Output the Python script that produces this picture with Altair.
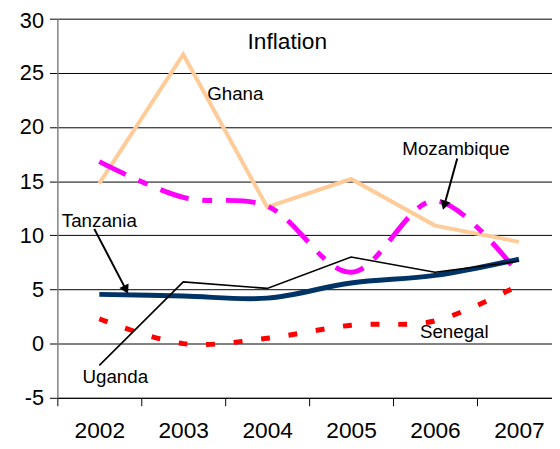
import altair as alt
import pandas as pd

years = [2002, 2003, 2004, 2005, 2006, 2007]
ghana = [14.8, 26.7, 12.6, 15.2, 10.9, 9.4]
mozambique = [16.8, 13.5, 12.7, 6.6, 13.2, 6.4]
tanzania = [4.55, 4.4, 4.2, 5.6, 6.3, 7.8]
uganda = [-2.0, 5.7, 5.1, 8.0, 6.6, 7.6]
senegal = [2.3, 0.0, 0.5, 1.7, 2.1, 5.4]

y_ticks = [-5, 0, 5, 10, 15, 20, 25, 30]
x_ticks = [2001.5, 2002, 2002.5, 2003, 2003.5, 2004, 2004.5, 2005, 2005.5,
           2006, 2006.5, 2007]

label_text = ["Inflation", "Ghana", "Mozambique", "Tanzania", "Uganda", "Senegal"]
label_x = [2004.24, 2003.62, 2006.25, 2002.0, 2002.19, 2006.23]
label_y = [27.8, 23.0, 17.95, 11.3, -3.1, 1.1]
label_size = [23, 19, 19, 19, 19, 19]

arrow_x = [2001.94, 2006.265]
arrow_y = [10.6, 17.1]
arrow_x2 = [2002.31, 2006.115]
arrow_y2 = [5.1, 12.9]
arrow_angle = [153, 196]

FONT = "Liberation Sans"
W, H = 501, 384
x_scale = alt.Scale(domain=[2001.5, 2001.5 + W / 85.0], nice=False, zero=False)
y_scale = alt.Scale(domain=[-5, 30], nice=False, zero=False)

series = [
    ("Ghana", ghana, "#FFCC99", 4, None, "linear"),
    ("Mozambique", mozambique, "#FF00FF", 5, [30, 14, 10, 14], "catmull-rom"),
    ("Senegal", senegal, "#FF0000", 5, [9, 19], "catmull-rom"),
    ("Tanzania", tanzania, "#003366", 5, None, "catmull-rom"),
    ("Uganda", uganda, "#000000", 1.6, None, "linear"),
]

x_axis = alt.Axis(
    values=x_ticks,
    labelExpr="datum.value % 1 == 0 ? format(datum.value, 'd') : ''",
    tickOpacity={"condition": {"test": "datum.value % 1 == 0", "value": 0}, "value": 1},
    grid=False, title=None, labelFont=FONT, labelFontSize=23, labelColor="#000000",
    tickSize=8, tickColor="#000000", domainColor="#000000", labelPadding=14,
    labelFlush=False, labelOverlap=False,
)
y_axis = alt.Axis(
    values=y_ticks, grid=True, gridColor="#000000", gridWidth=1, title=None,
    labelExpr="toString(datum.value)",
    labelOffset={"condition": {"test": "datum.value == 30", "value": 1.5}, "value": 0},
    labelFont=FONT, labelFontSize=22, labelColor="#000000", tickSize=8,
    tickColor="#000000", domainColor="#808080", domainWidth=1.5, labelPadding=6,
    labelFlush=False, labelOverlap=False,
)


def X(field):
    return alt.X(field, scale=x_scale, axis=x_axis)


def Y(field):
    return alt.Y(field, scale=y_scale, axis=y_axis)


layers = []
for name, vals, color, width, dash, interp in series:
    df = pd.DataFrame({"year": years, "value": vals, "country": name})
    mk = dict(color=color, strokeWidth=width, interpolate=interp, clip=True)
    if dash:
        mk["strokeDash"] = dash
    layers.append(alt.Chart(df).mark_line(**mk).encode(x=X("year:Q"), y=Y("value:Q")))

labels_df = pd.DataFrame({"t": label_text, "x": label_x, "y": label_y, "s": label_size})
texts = alt.Chart(labels_df).mark_text(font=FONT, color="#000000", baseline="middle",
                                        align="center").encode(
    x=X("x:Q"), y=Y("y:Q"),
    text="t:N",
    size=alt.Size("s:Q", scale=None, legend=None),
)

arrows_df = pd.DataFrame({"x": arrow_x, "y": arrow_y, "x2": arrow_x2, "y2": arrow_y2,
                          "a": arrow_angle})
rules = alt.Chart(arrows_df).mark_rule(color="#000000", strokeWidth=2).encode(
    x=X("x:Q"), y=Y("y:Q"), x2="x2:Q", y2="y2:Q",
)
heads = alt.Chart(arrows_df).mark_point(shape="triangle", filled=True, color="#000000",
                                        size=110, opacity=1).encode(
    x=X("x2:Q"), y=Y("y2:Q"),
    angle=alt.Angle("a:Q", scale=None),
)

chart = alt.layer(*layers, rules, heads, texts).properties(
    width=W, height=H, padding={"left": 50, "top": 8, "right": 0, "bottom": 48},
    autosize=alt.AutoSizeParams(type="none"),
).configure(background="#FFFFFF").configure_view(stroke=None)

chart.save("out.html", embed_options={"renderer": "svg", "actions": False})
